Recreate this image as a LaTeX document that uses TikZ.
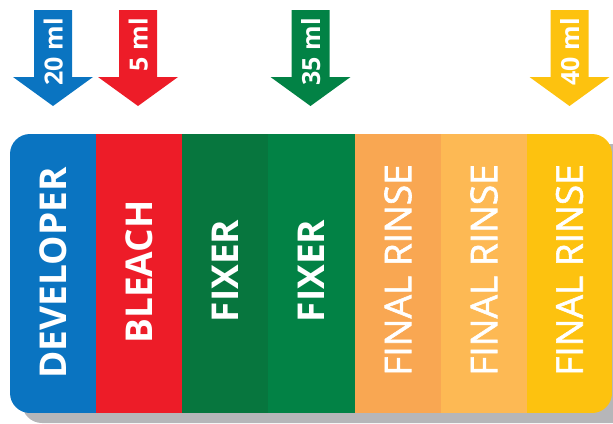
\documentclass[tikz,border=0pt]{standalone}
\usepackage{fontspec}
\setmainfont{Open Sans}
\newfontfamily\semibfont[FakeBold=1.6]{Open Sans}
\definecolor{cblue}{HTML}{0A74C1}
\definecolor{cred}{HTML}{ED1C28}
\definecolor{cdgreen}{HTML}{07763E}
\definecolor{cgreen}{HTML}{028245}
\definecolor{corange}{HTML}{F9A752}
\definecolor{clorange}{HTML}{FDB954}
\definecolor{cyellow}{HTML}{FDC20F}
\definecolor{cshadow}{HTML}{B6B6B9}
\tikzset{
  coltext/.style={rotate=90, text=white, font=\fontsize{37}{37}\selectfont\bfseries, inner sep=0pt},
  rinsetext/.style={rotate=90, text=white, font=\fontsize{37}{37}\selectfont\semibfont, inner sep=0pt},
  mltext/.style={rotate=90, text=white, font=\fontsize{25}{25}\selectfont\bfseries, inner sep=0pt, anchor=base east},
}
\newcommand\droparrow[4]{% name, x center, colour, text
  \fill[#3] (#2-19,10) -- (#2+19,10) -- (#2+19,77) -- (#2+40,77) -- (#2,106) -- (#2-40,77) -- (#2-19,77) -- cycle;
  \node[mltext] (#1) at (#2+9.5,18) {#4};
}
\begin{document}
\begin{tikzpicture}[x=1pt,y=-1pt]
\useasboundingbox (0,0) rectangle (613,423);
\clip (0,0) rectangle (613,423);
% shadow
\fill[cshadow, rounded corners=20pt] (22,144) rectangle (640,423);
% columns
\begin{scope}
  \clip[rounded corners=20pt] (10,134) rectangle (612,413);
  \fill[cblue] (10,134) rectangle (96.3,413);
  \fill[cred] (96,134) rectangle (182.3,413);
  \fill[cdgreen] (182,134) rectangle (268.3,413);
  \fill[cgreen] (268,134) rectangle (355.3,413);
  \fill[corange] (355,134) rectangle (441.3,413);
  \fill[clorange] (441,134) rectangle (527.3,413);
  \fill[cyellow] (527,134) rectangle (612,413);
\end{scope}
\node[coltext] (dev) at (53,273) {DEVELOPER};
\node[coltext] (bleach) at (139,272) {BLEACH};
\node[coltext] (fix1) at (225,271) {FIXER};
\node[coltext] (fix2) at (311.5,271) {FIXER};
\node[rinsetext] (rin1) at (398,270) {FINAL RINSE};
\node[rinsetext] (rin2) at (484,270) {FINAL RINSE};
\node[rinsetext] (rin3) at (569.5,270) {FINAL RINSE};
% arrows
\droparrow{a1}{53}{cblue}{20 ml}
\droparrow{a2}{138}{cred}{5 ml}
\droparrow{a3}{310.5}{cgreen}{35 ml}
\droparrow{a4}{569.5}{cyellow}{40 ml}
\end{tikzpicture}
\end{document}
